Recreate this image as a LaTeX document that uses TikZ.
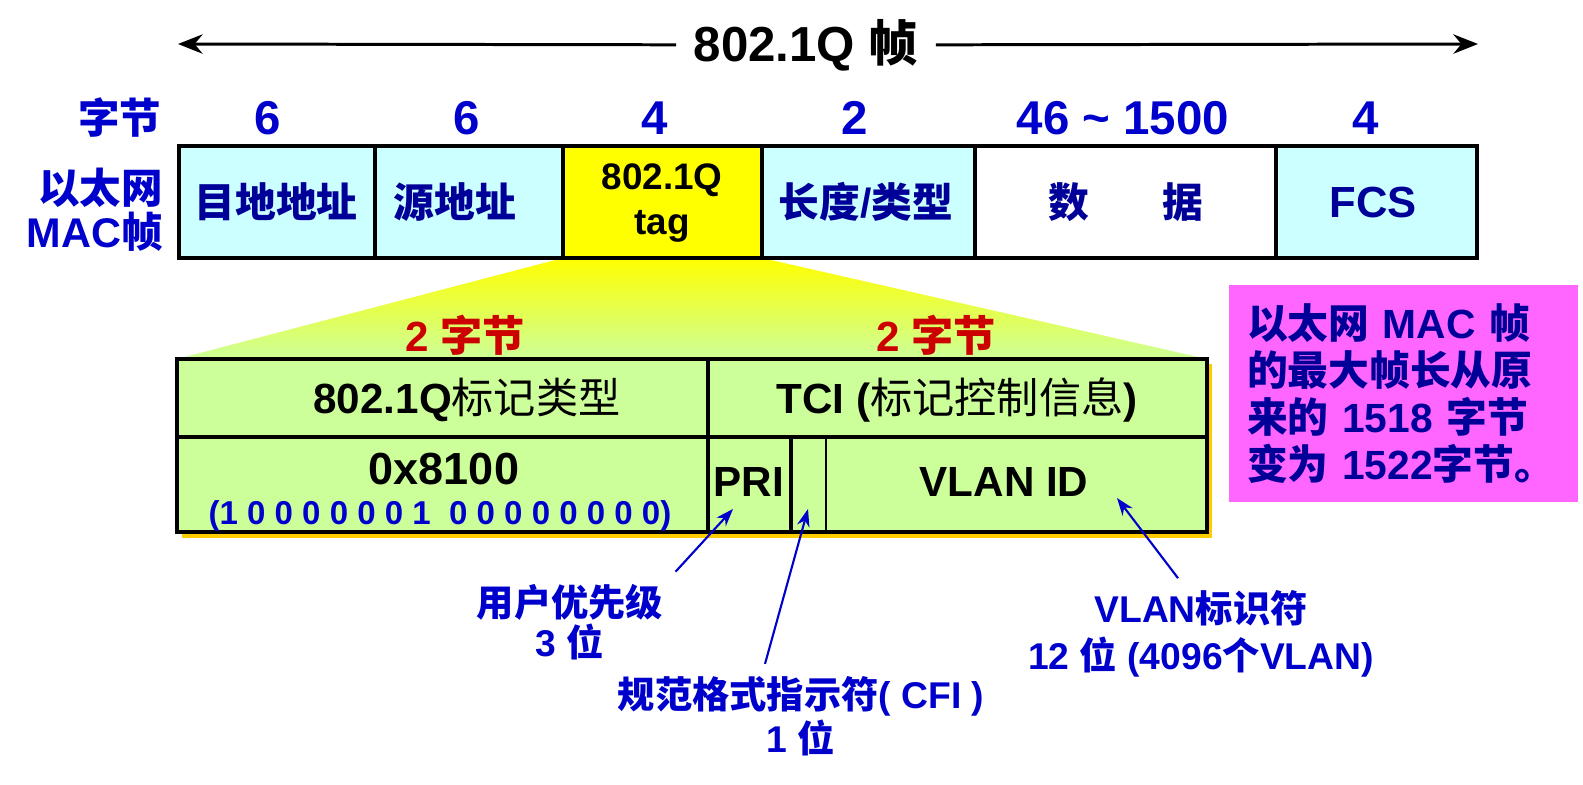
\documentclass[tikz,border=0pt]{standalone}
\usepackage{fontspec}
\setmainfont{Liberation Sans}
\newfontfamily\cjk{Noto Sans CJK SC}
\newcommand{\zh}[1]{{\cjk #1}}
\usetikzlibrary{arrows.meta}
\definecolor{cellcyan}{HTML}{CCFFFF}
\definecolor{tagyellow}{HTML}{FFFF00}
\definecolor{tablegreen}{HTML}{CCFF99}
\definecolor{shadowgold}{HTML}{FFCC00}
\definecolor{notepink}{HTML}{FF66FF}
\definecolor{numblue}{HTML}{0000CC}
\definecolor{cellnavy}{HTML}{000099}
\definecolor{twored}{HTML}{CC0000}
\tikzset{
  frameline/.style={line width=0.9pt},
  cell/.style={font=\fontsize{11.6}{13}\selectfont\bfseries,text=cellnavy},
  bytenum/.style={font=\fontsize{13.5}{15}\selectfont\bfseries,text=numblue},
  bytelbl/.style={font=\fontsize{11.8}{12.4}\selectfont\bfseries,text=numblue},
  fld/.style={font=\fontsize{12}{14}\selectfont\bfseries},
  twobyte/.style={font=\fontsize{12}{14}\selectfont\bfseries,text=twored},
  remark/.style={font=\fontsize{10.6}{11.4}\selectfont\bfseries,text=numblue,align=center},
  pointer/.style={-{Stealth[length=5pt,width=3.6pt]},draw=numblue,line width=0.6pt},
  note/.style={font=\fontsize{11.6}{13.4}\selectfont\bfseries,text=cellnavy,fill=notepink,
    text width=3.13cm,inner xsep=0.18cm,minimum height=2.17cm,align=left}
}
\begin{document}
\begin{tikzpicture}[x=0.1mm,y=-0.1mm]
\useasboundingbox (0,0) rectangle (1583,784);
% title
\node[font=\fontsize{14}{16}\selectfont\bfseries,inner sep=0.17cm] (title) at (806,45) {802.1Q \zh{帧}};
\coordinate (fl) at (178,44);
\coordinate (fr) at (1478,44);
\draw[-{Stealth[length=7pt,width=5.5pt]},line width=0.85pt] (title) -- (fl);
\draw[-{Stealth[length=7pt,width=5.5pt]},line width=0.85pt] (title) -- (fr);
% byte counts
\node[bytelbl] (zj) at (120,118) {\zh{字节}};
\node[bytenum] (n1) at (268,118) {6};
\node[bytenum] (n2) at (467,118) {6};
\node[bytenum] (n3) at (655,118) {4};
\node[bytenum] (n4) at (855,118) {2};
\node[bytenum] (n5) at (1123,118) {46 \textasciitilde{} 1500};
\node[bytenum] (n6) at (1366,118) {4};
\node[bytelbl,align=right,anchor=east] (maclbl) at (175,210) {\zh{以太网}\\MAC\zh{帧}};
% funnel
\shade[top color=tagyellow,bottom color=tablegreen] (563,258) -- (762,258) -- (1207,359) -- (177,359) -- cycle;
% frame
\filldraw[frameline,fill=cellcyan] (179,146) rectangle (375,258);
\filldraw[frameline,fill=cellcyan] (375,146) rectangle (563,258);
\filldraw[frameline,fill=tagyellow] (563,146) rectangle (762,258);
\filldraw[frameline,fill=cellcyan] (762,146) rectangle (975,258);
\filldraw[frameline,fill=white] (975,146) rectangle (1276,258);
\filldraw[frameline,fill=cellcyan] (1276,146) rectangle (1477,258);
\node[cell] (dst) at (276,202) {\zh{目地地址}};
\node[cell] (src) at (455,202) {\zh{源地址}};
\node[font=\fontsize{10.5}{12.8}\selectfont\bfseries,align=center] (tag) at (662,203) {802.1Q\\tag};
\node[cell] (len) at (866,202) {\zh{长度}/\zh{类型}};
\node[cell] (data) at (1126,202) {\zh{数}\hspace{1.8em}\zh{据}};
\node[cell,font=\fontsize{12.4}{14}\selectfont\bfseries] (fcs) at (1373,202) {FCS};
% tag detail
\node[twobyte] (tpidlen) at (465,335) {2 \zh{字节}};
\node[twobyte] (tcilen) at (936,335) {2 \zh{字节}};
\fill[shadowgold] (182,364) rectangle (1212,538);
\filldraw[frameline,fill=tablegreen] (177,359) rectangle (1207,532);
\draw[frameline] (177,437) -- (1207,437) (708,359) -- (708,532) (791,437) -- (791,532);
\draw[line width=0.6pt] (826,437) -- (826,532);
\node[fld] (tpid) at (467,400) {802.1Q{\mdseries\cjk 标记类型}};
\node[fld] (tci) at (957,400) {TCI ({\mdseries\cjk 标记控制信息})};
\node[fld,font=\fontsize{12.8}{14}\selectfont\bfseries] (tpidval) at (444,469) {0x8100};
\node[font=\fontsize{9.4}{11}\selectfont\bfseries,text=numblue] (tpidbits) at (440,516) {(1 0 0 0 0 0 0 1\ \ 0 0 0 0 0 0 0 0)};
\node[fld] (pri) at (749,482) {PRI};
\node[fld] (vid) at (1004,482) {VLAN ID};
% note
\node[note] (note) at (1403.5,393.5) {\zh{以太网} MAC \zh{帧}\\\zh{的最大帧长从原}\\\zh{来的} 1518 \zh{字节}\\\zh{变为} 1522\zh{字节。}};
% remarks
\coordinate (pritip) at (733,509);
\coordinate (cfitip) at (808,509);
\coordinate (vidtip) at (1117,498);
\node[remark] (prilbl) at (570,622) {\zh{用户优先级}\\3 \zh{位}};
\node[remark] (cfilbl) at (801,716) {\zh{规范格式指示符}( CFI )\\1 \zh{位}};
\node[remark] (vidlbl) at (1201,634) {VLAN\zh{标识符}\\[2pt]12 \zh{位} (4096\zh{个}VLAN)};
\draw[pointer] (prilbl.north east) -- (pritip);
\draw[pointer] ([xshift=-0.36cm]cfilbl.north) -- (cfitip);
\draw[pointer] ([xshift=-0.23cm]vidlbl.north) -- (vidtip);
\end{tikzpicture}
\end{document}
